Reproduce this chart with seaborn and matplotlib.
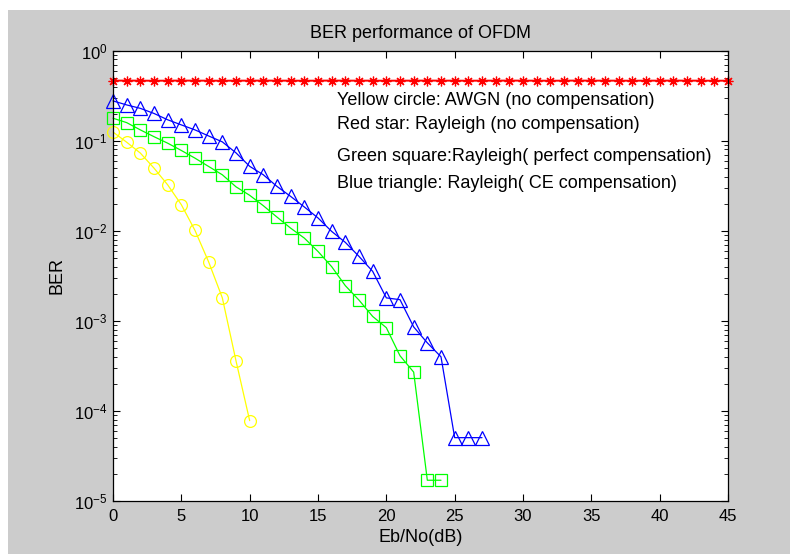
import matplotlib
matplotlib.use("Agg")
import matplotlib.pyplot as plt
from matplotlib.patches import Rectangle
from matplotlib.ticker import LogLocator, NullFormatter
import seaborn as sns

# Eb/No axis for each curve (dB)
snr_awgn = [0, 1, 2, 3, 4, 5, 6, 7, 8, 9, 10]
snr_rayleigh = list(range(0, 46))
snr_perfect = list(range(0, 25))
snr_ce = list(range(0, 28))

# BER values
ber_awgn = [0.125, 0.0964, 0.073, 0.0497, 0.0324, 0.0195, 0.0101, 0.00451,
            0.0018, 3.6e-4, 7.8e-5]
ber_rayleigh = [0.465, 0.466, 0.465, 0.464, 0.465, 0.466, 0.465, 0.465, 0.464, 0.465,
                0.465, 0.466, 0.465, 0.465, 0.464, 0.465, 0.466, 0.465, 0.465, 0.465,
                0.464, 0.465, 0.465, 0.466, 0.465, 0.465, 0.464, 0.465, 0.465, 0.466,
                0.465, 0.465, 0.464, 0.465, 0.466, 0.465, 0.465, 0.465, 0.464, 0.465,
                0.465, 0.466, 0.465, 0.465, 0.464, 0.465]
ber_perfect = [0.178, 0.159, 0.132, 0.111, 0.094, 0.078, 0.0641, 0.0518, 0.0419,
               0.0308, 0.0248, 0.019, 0.0142, 0.0107, 0.0083, 0.0059, 0.0040,
               0.00246, 0.0017, 0.00112, 8.4e-4, 4.1e-4, 2.7e-4, 1.7e-5, 1.7e-5]
ber_ce = [0.277, 0.250, 0.229, 0.201, 0.171, 0.150, 0.132, 0.113, 0.0972, 0.0734,
          0.052, 0.0419, 0.0311, 0.0241, 0.0184, 0.0139, 0.00985, 0.00744, 0.0052,
          0.00355, 0.0018, 0.00172, 8.57e-4, 5.7e-4, 3.99e-4, 5.05e-5, 5.05e-5,
          5.05e-5]

notes = ["Yellow circle: AWGN (no compensation)",
         "Red star: Rayleigh (no compensation)",
         "Green square:Rayleigh( perfect compensation)",
         "Blue triangle: Rayleigh( CE compensation)"]
note_y = [0.889, 0.835, 0.765, 0.704]

sns.set_style("ticks")
plt.rcParams['font.family'] = ['Liberation Sans', 'DejaVu Sans']
plt.rcParams['mathtext.fontset'] = 'custom'
plt.rcParams['mathtext.rm'] = 'Liberation Sans'
plt.rcParams['text.color'] = 'black'
plt.rcParams['axes.labelcolor'] = 'black'

fig = plt.figure(figsize=(7.9, 5.54), dpi=100)
fig.patches.append(Rectangle((8 / 790, 0), 1, 544 / 554, transform=fig.transFigure,
                             facecolor='#cccccc', edgecolor='none', zorder=-10))
ax = fig.add_axes([113 / 790, 1 - 501 / 554, 615 / 790, 450.3 / 554])
ax.set_facecolor('white')
ax.set_yscale('log')

# x, y, colour, marker, marker size, line width
series = [
    (snr_awgn, ber_awgn, '#ffff00', 'o', 8.5, 0.9),
    (snr_rayleigh, ber_rayleigh, '#ff0000', (8, 2, 0), 7, 1.4),
    (snr_perfect, ber_perfect, '#00ff00', 's', 8, 0.9),
    (snr_ce, ber_ce, '#0000ff', '^', 9.5, 0.9),
]
for x, y, c, m, ms, lw in series:
    sns.lineplot(x=x, y=y, ax=ax, color=c, linewidth=lw, marker=m,
                 markersize=ms, markerfacecolor='none', markeredgecolor=c,
                 markeredgewidth=0.9, clip_on=False)

ax.set_xlim(0, 45)
ax.set_ylim(1e-5, 1)
ax.set_xticks(range(0, 46, 5))
ax.yaxis.set_major_locator(LogLocator(base=10, numticks=10))
ax.yaxis.set_minor_locator(LogLocator(base=10, subs=range(2, 10), numticks=10))
ax.yaxis.set_minor_formatter(NullFormatter())
ax.tick_params(which='both', direction='in', top=True, right=True, color='black',
               labelsize=12, labelcolor='black')
ax.tick_params(which='major', length=5, width=0.8)
ax.tick_params(which='minor', length=3, width=0.6)
ax.tick_params(axis='x', pad=6)
ax.tick_params(axis='y', pad=4)
for s in ax.spines.values():
    s.set_color('black')
    s.set_linewidth(0.9)

ax.set_title('BER performance of OFDM', fontsize=13, pad=9, color='black')
ax.set_xlabel('Eb/No(dB)', fontsize=13, labelpad=3)
ax.set_ylabel('BER', fontsize=13, labelpad=6)

for txt, yy in zip(notes, note_y):
    ax.text(0.365, yy, txt, transform=ax.transAxes, fontsize=13, va='center',
            ha='left', color='black')

fig.savefig('out.png', dpi=100)
